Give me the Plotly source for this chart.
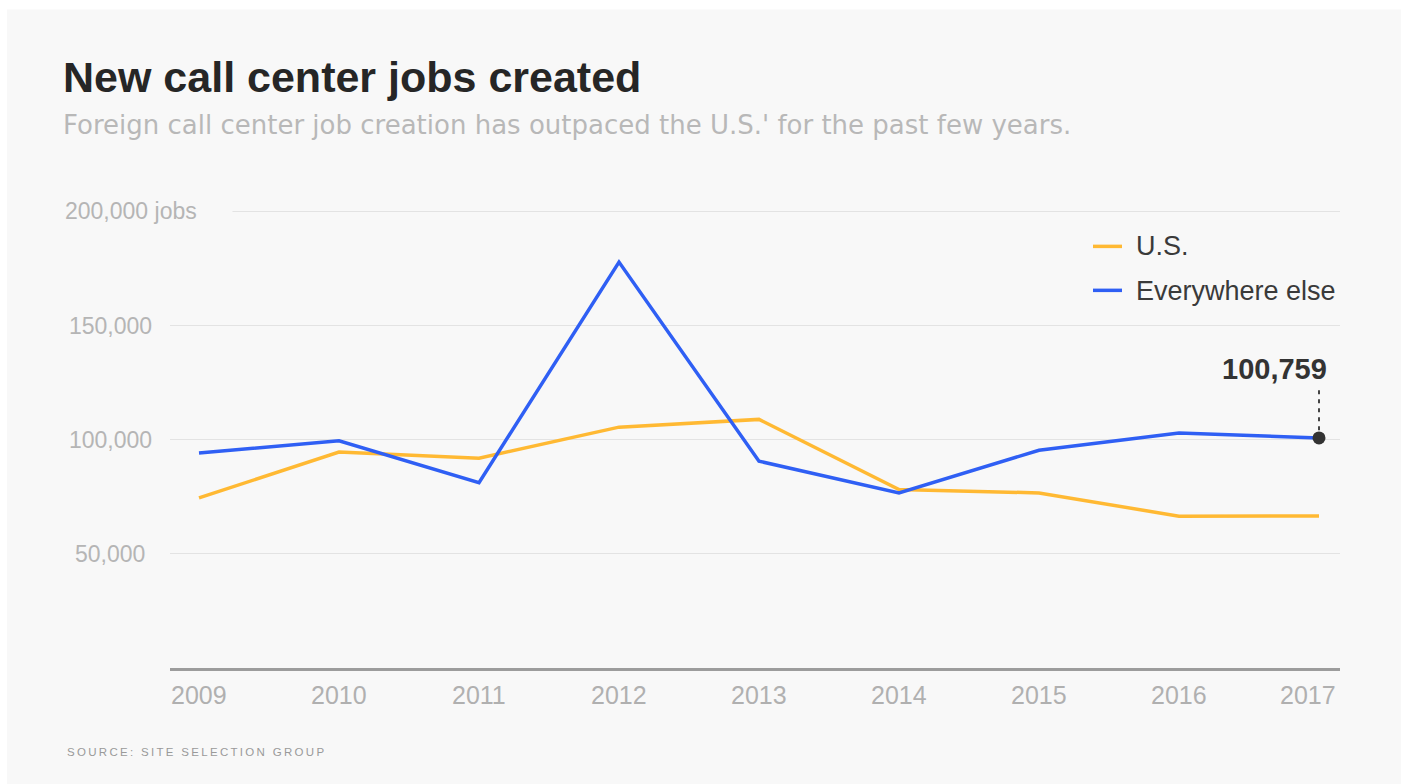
import plotly.graph_objects as go

# ---------------- data ----------------
years = [2009, 2010, 2011, 2012, 2013, 2014, 2015, 2016, 2017]
us_jobs = [74500, 94600, 91900, 105500, 108900, 78200, 76700, 66500, 66600]
else_jobs = [94200, 99500, 81200, 177800, 90600, 76700, 95400, 102900, 100759]
y_ticks = [50000, 100000, 150000, 200000]
y_tick_text = ["50,000", "100,000", "150,000", "200,000 jobs"]
x_tick_text = [str(y) for y in years]
series_names = ["U.S.", "Everywhere else"]
highlight_text = "100,759"

title = "New call center jobs created"
subtitle = "Foreign call center job creation has outpaced the U.S.' for the past few years."
source = "SOURCE: SITE SELECTION GROUP"

# ---------------- layout geometry (px) ----------------
W, H = 1405, 784
PL, PR = 170, 1340          # plot area left/right
PB = 668                    # y = 0
PT200 = 211                 # y = 200,000
YMAX = 205000
px_per_val = (PB - PT200) / 200000.0
PT = PB - YMAX * px_per_val
X_FIRST_PX, X_LAST_PX = 199, 1319
px_per_year = (X_LAST_PX - X_FIRST_PX) / (years[-1] - years[0])
x0 = years[0] - (X_FIRST_PX - PL) / px_per_year
x1 = years[-1] + (PR - X_LAST_PX) / px_per_year


def PX(px):
    return (px - PL) / (PR - PL)


def PY(py):
    return (PB - py) / (PB - PT)


FONT = "Liberation Sans, Arial, Helvetica, sans-serif"
WIDE = "DejaVu Sans, Verdana, sans-serif"
YELLOW = "#ffb933"
BLUE = "#2f5ff4"
CARD = "#f8f8f8"

fig = go.Figure()
fig.add_trace(go.Scatter(x=years, y=us_jobs, mode="lines", name=series_names[0],
                         line=dict(color=YELLOW, width=3.5), hoverinfo="skip"))
fig.add_trace(go.Scatter(x=years, y=else_jobs, mode="lines", name=series_names[1],
                         line=dict(color=BLUE, width=3.5), hoverinfo="skip"))
# highlighted end point
fig.add_trace(go.Scatter(x=[years[-1]], y=[else_jobs[-1]], mode="markers",
                         marker=dict(color="#333333", size=13), hoverinfo="skip"))

shapes = []
# card background
shapes.append(dict(type="rect", xref="paper", yref="paper", layer="below",
                   x0=PX(7), x1=PX(1401), y0=PY(784), y1=PY(9),
                   fillcolor=CARD, line=dict(width=0)))
# dashed leader line to the highlight label
shapes.append(dict(type="line", xref="x", yref="paper",
                   x0=years[-1], x1=years[-1], y0=PY(430), y1=PY(388),
                   line=dict(color="#444444", width=2, dash="4px,5px")))
# legend swatches
for i, (col, ypx) in enumerate([(YELLOW, 246), (BLUE, 290)]):
    shapes.append(dict(type="line", xref="paper", yref="paper",
                       x0=PX(1093), x1=PX(1122), y0=PY(ypx), y1=PY(ypx),
                       line=dict(color=col, width=3.5)))

annotations = []
annotations.append(dict(text="<b>" + title + "</b>", xref="paper", yref="paper",
                        x=PX(61), y=PY(76), xanchor="left", yanchor="middle",
                        showarrow=False, font=dict(family=FONT, size=43, color="#262626")))
annotations.append(dict(text=subtitle, xref="paper", yref="paper",
                        x=PX(61), y=PY(125), xanchor="left", yanchor="middle",
                        showarrow=False, font=dict(family=WIDE, size=26, color="#b8b8b8")))
# y labels
for v, t in zip(y_ticks, y_tick_text):
    if t.endswith("jobs"):
        annotations.append(dict(text=t, xref="paper", yref="y", x=PX(64), y=v,
                                xanchor="left", yanchor="middle", align="left",
                                width=167, bgcolor=CARD, borderpad=0,
                                showarrow=False,
                                font=dict(family=FONT, size=23, color="#b5b5b5")))
    else:
        annotations.append(dict(text=t, xref="paper", yref="y", x=PX(110), y=v,
                                xanchor="center", yanchor="middle",
                                showarrow=False,
                                font=dict(family=FONT, size=23, color="#b5b5b5")))
# x labels
for i, (yr, t) in enumerate(zip(years, x_tick_text)):
    last = i == len(years) - 1
    annotations.append(dict(text=t, xref="x", yref="paper",
                            x=(x1 - 2 / px_per_year) if last else yr, y=PY(695),
                            xanchor="right" if last else "center", yanchor="middle",
                            showarrow=False,
                            font=dict(family=FONT, size=25, color="#b0b0b0")))
# legend labels
for name, ypx in zip(series_names, [246, 291]):
    annotations.append(dict(text=name, xref="paper", yref="paper",
                            x=PX(1134), y=PY(ypx), xanchor="left", yanchor="middle",
                            showarrow=False,
                            font=dict(family=FONT, size=27, color="#3a3a3a")))
# highlight value
annotations.append(dict(text="<b>" + highlight_text + "</b>", xref="x", yref="paper",
                        x=years[-1] + 10 / px_per_year, y=PY(369),
                        xanchor="right", yanchor="middle", showarrow=False,
                        font=dict(family=FONT, size=29, color="#333333")))
# source
annotations.append(dict(text="\u2009".join(list(source)), xref="paper", yref="paper",
                        x=PX(65), y=PY(752), xanchor="left", yanchor="middle",
                        showarrow=False,
                        font=dict(family=FONT, size=11.5, color="#9a9a9a")))

fig.update_layout(
    width=W, height=H,
    margin=dict(l=PL, r=W - PR, t=PT, b=H - PB, pad=0),
    paper_bgcolor="white", plot_bgcolor="rgba(0,0,0,0)",
    showlegend=False,
    xaxis=dict(range=[x0, x1], showgrid=False, zeroline=False, showticklabels=False,
               ticks="", showline=True, linecolor="#9c9c9c", linewidth=3),
    yaxis=dict(range=[0, YMAX], tickvals=y_ticks, showgrid=True, gridcolor="#e3e3e3",
               gridwidth=1, zeroline=False, showticklabels=False, ticks="",
               showline=False),
    shapes=shapes,
    annotations=annotations,
)

fig.write_html("out.html")
